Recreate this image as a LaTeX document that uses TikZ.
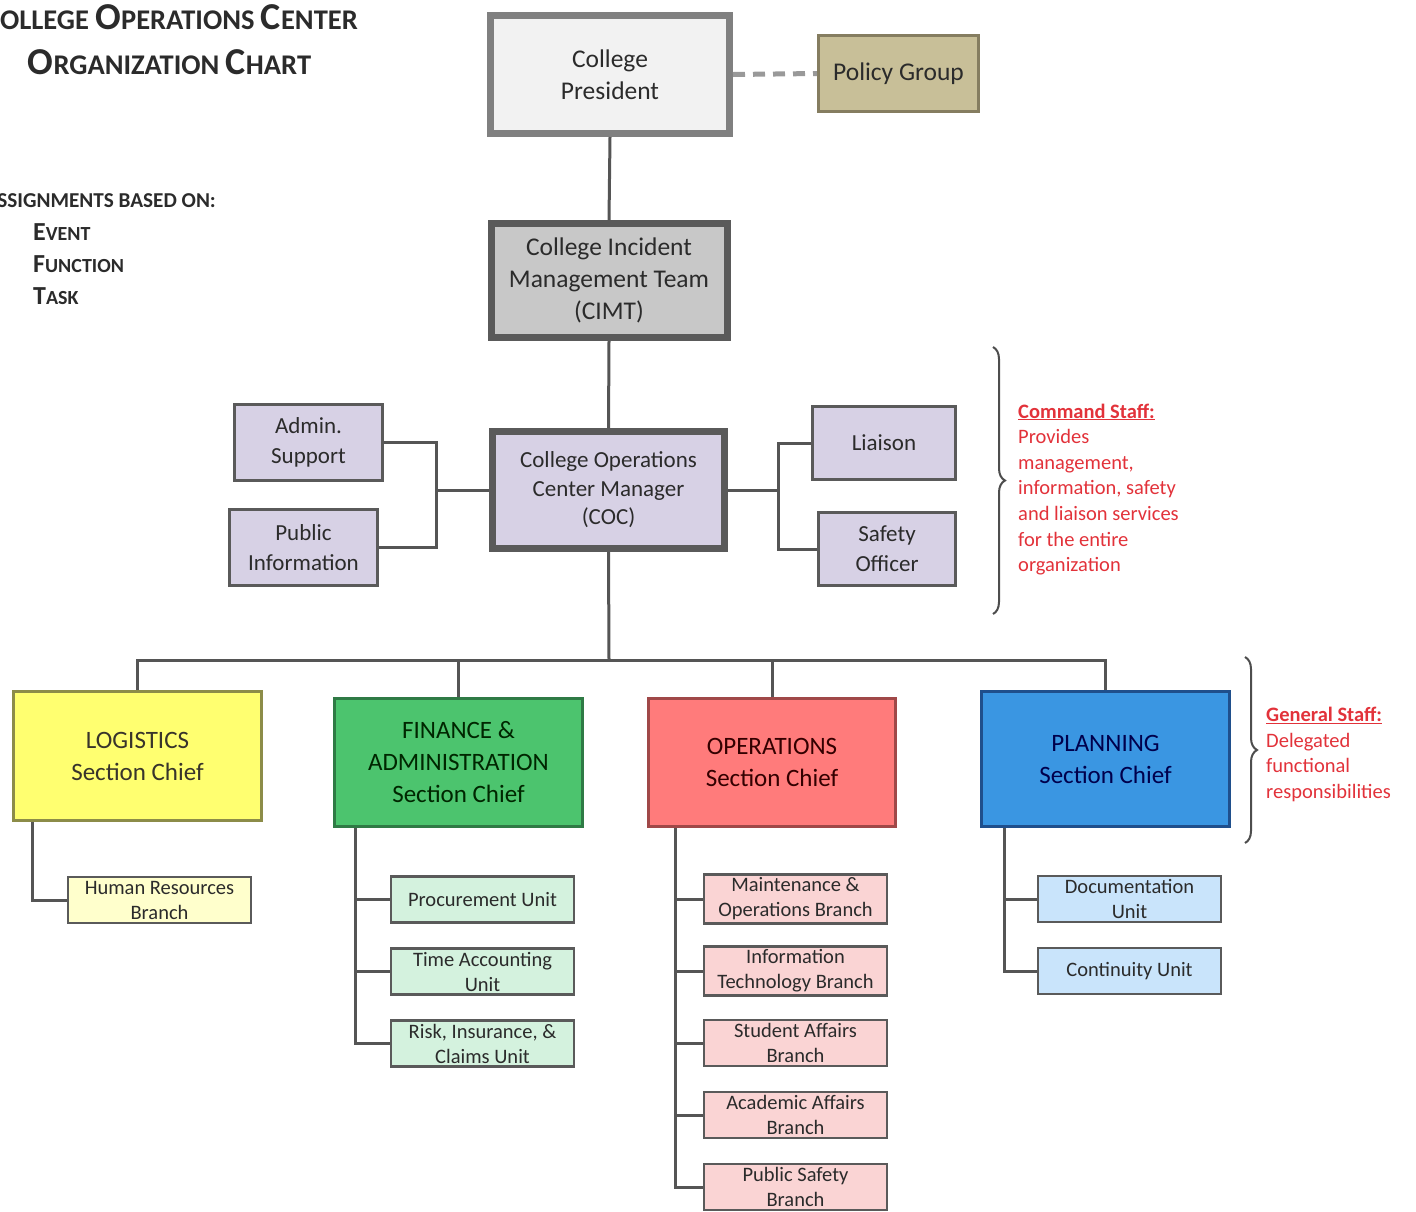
\documentclass[tikz,border=0pt]{standalone}
\usepackage{fontspec}
\setmainfont{Carlito}
\usetikzlibrary{decorations.pathreplacing}

\definecolor{ink}{HTML}{2B2B2B}
\definecolor{linegray}{HTML}{555555}
\definecolor{edgegray}{HTML}{5A5A5A}
\definecolor{bracegray}{HTML}{4D4D4D}
\definecolor{notered}{HTML}{E2323A}
\definecolor{presfill}{HTML}{F2F2F2}
\definecolor{cimtfill}{HTML}{C8C8C8}
\definecolor{lavender}{HTML}{D7D1E5}
\definecolor{policyfill}{HTML}{C8BF98}
\definecolor{policyedge}{HTML}{857D60}
\definecolor{logfill}{HTML}{FFFF70}
\definecolor{logedge}{HTML}{8C8C48}
\definecolor{finfill}{HTML}{4CC46E}
\definecolor{finedge}{HTML}{2F7A45}
\definecolor{opsfill}{HTML}{FF7B7B}
\definecolor{opsedge}{HTML}{A04848}
\definecolor{planfill}{HTML}{3A96E2}
\definecolor{planedge}{HTML}{1F4F8C}
\definecolor{logunit}{HTML}{FFFFCC}
\definecolor{finunit}{HTML}{D4F2DE}
\definecolor{opsunit}{HTML}{FAD4D4}
\definecolor{planunit}{HTML}{C9E4FB}

\newcommand{\titlecap}[1]{{\fontsize{38}{38}\selectfont #1}}
\newcommand{\listcap}[1]{{\fontsize{26}{26}\selectfont #1}}

\begin{document}
\begin{tikzpicture}[x=1pt, y=-1pt,
  link/.style={draw=linegray, line width=3pt},
  topbox/.style={draw=edgegray, line width=7pt, align=center, text=ink, font=\fontsize{25.5}{32}\selectfont},
  staffbox/.style={draw=edgegray, fill=lavender, line width=3pt, align=center, text=ink, font=\fontsize{23}{30}\selectfont, minimum height=76pt},
  sectionbox/.style={line width=3pt, align=center, font=\fontsize{25}{32}\selectfont, minimum width=248pt},
  unitbox/.style={draw=edgegray, line width=2.5pt, align=center, text=ink, font=\fontsize{20.5}{25}\selectfont, minimum width=183pt, minimum height=46pt},
  note/.style={text=notered, align=left, anchor=north west, inner sep=0pt, font=\fontsize{20.5}{25.6}\selectfont},
  staffbrace/.style={draw=bracegray, line width=2pt, decorate, decoration={brace, amplitude=12pt}}]
  \useasboundingbox (0,0) rectangle (1416,1211);
  \clip (0,0) rectangle (1416,1211);

  \node [anchor=base east, font=\bfseries\fontsize{28.5}{28.5}\selectfont, text=ink, inner sep=0pt] (title1) at (358,29)
    {\titlecap{C}OLLEGE \titlecap{O}PERATIONS \titlecap{C}ENTER};
  \node [anchor=base, font=\bfseries\fontsize{28.5}{28.5}\selectfont, text=ink, inner sep=0pt] (title2) at (169.5,74)
    {\titlecap{O}RGANIZATION \titlecap{C}HART};
  \node [anchor=base east, font=\bfseries\fontsize{21.2}{21.2}\selectfont, text=ink, inner sep=0pt] (basis) at (216,207)
    {ASSIGNMENTS BASED ON:};
  \node [anchor=base west, font=\bfseries\fontsize{20}{20}\selectfont, text=ink, inner sep=0pt] (event) at (33,240) {\listcap{E}VENT};
  \node [anchor=base west, font=\bfseries\fontsize{20}{20}\selectfont, text=ink, inner sep=0pt] (function) at (33,272) {\listcap{F}UNCTION};
  \node [anchor=base west, font=\bfseries\fontsize{20}{20}\selectfont, text=ink, inner sep=0pt] (task) at (33,304) {\listcap{T}ASK};

  \node [topbox, draw=gray, fill=presfill, minimum width=239pt, minimum height=118pt] (president) at (610,74.5) {College\\President};
  \node [draw=policyedge, fill=policyfill, line width=3pt, text=ink, font=\fontsize{25.5}{32}\selectfont, minimum width=160pt, minimum height=76pt] (policy) at (898.5,73.5) {Policy Group};
  \node [topbox, fill=cimtfill, minimum width=236pt, minimum height=114pt] (cimt) at (609,280.5) {College Incident\\Management Team\\(CIMT)};
  \node [topbox, fill=lavender, font=\fontsize{23}{28.5}\selectfont, minimum width=232pt, minimum height=117pt] (coc) at (608.5,490) {College Operations\\Center Manager\\(COC)};

  \node [staffbox, minimum width=148pt] (admin) at (308.5,442.5) {Admin.\\Support};
  \node [staffbox, minimum width=148pt] (pubinfo) at (303.5,547.5) {Public\\Information};
  \node [staffbox, minimum width=143pt, minimum height=73pt] (liaison) at (884,443) {Liaison};
  \node [staffbox, minimum width=137pt, minimum height=73pt] (safety) at (887,549) {Safety\\Officer};

  \node [sectionbox, draw=logedge, fill=logfill, text=black!80!olive, minimum height=129pt] (logistics) at (137.5,756) {LOGISTICS\\Section Chief};
  \node [sectionbox, draw=finedge, fill=finfill, text=black!85!green, minimum height=128pt] (finance) at (458.5,762.5) {FINANCE \&\\ADMINISTRATION\\Section Chief};
  \node [sectionbox, draw=opsedge, fill=opsfill, text=black!80!red, minimum width=247pt, minimum height=128pt] (operations) at (772,762.5) {OPERATIONS\\Section Chief};
  \node [sectionbox, draw=planedge, fill=planfill, text=black!70!blue, minimum height=135pt] (planning) at (1105.5,759) {PLANNING\\Section Chief};

  \node [unitbox, fill=logunit] (hr) at (159.5,900) {Human Resources\\Branch};
  \node [unitbox, fill=finunit] (procure) at (482.5,899.5) {Procurement Unit};
  \node [unitbox, fill=finunit] (timeacc) at (482.5,971.5) {Time Accounting\\Unit};
  \node [unitbox, fill=finunit] (risk) at (482.5,1043.5) {Risk, Insurance, \&\\Claims Unit};
  \node [unitbox, fill=opsunit] (maint) at (795.5,899) {Maintenance \&\\Operations Branch};
  \node [unitbox, fill=opsunit] (infotech) at (795.5,971) {Information\\Technology Branch};
  \node [unitbox, fill=opsunit] (student) at (795.5,1043) {Student Affairs\\Branch};
  \node [unitbox, fill=opsunit] (academic) at (795.5,1115) {Academic Affairs\\Branch};
  \node [unitbox, fill=opsunit] (pubsafety) at (795.5,1187) {Public Safety\\Branch};
  \node [unitbox, fill=planunit] (docu) at (1129.5,899) {Documentation\\Unit};
  \node [unitbox, fill=planunit] (contin) at (1129.5,971) {Continuity Unit};

  \coordinate (leftjoin) at (436,490);
  \coordinate (rightjoin) at (778,490);
  \coordinate (bus) at (609,660);

  \draw [draw=gray!80, line width=5pt, dash pattern=on 12pt off 8pt] (president.east) -- (policy.west);
  \draw [link] (president.south) -- (cimt.north);
  \draw [link] (cimt.south) -- (coc.north);
  \draw [link] (admin.east) -| (leftjoin) |- (pubinfo.east);
  \draw [link] (coc.west) -- (leftjoin);
  \draw [link] (liaison.west) -| (rightjoin) |- (safety.west);
  \draw [link] (coc.east) -- (rightjoin);
  \draw [link] (coc.south) -- (bus);
  \draw [link] (logistics.north) |- (bus) -| (planning.north);
  \draw [link] (finance.north) -- (finance.north |- bus);
  \draw [link] (operations.north) -- (operations.north |- bus);

  \draw [link] ([xshift=20pt]logistics.south west) |- (hr.west);
  \foreach \u in {procure, timeacc, risk}
    \draw [link] ([xshift=22pt]finance.south west) |- (\u.west);
  \foreach \u in {maint, infotech, student, academic, pubsafety}
    \draw [link] ([xshift=28pt]operations.south west) |- (\u.west);
  \foreach \u in {docu, contin}
    \draw [link] ([xshift=24pt]planning.south west) |- (\u.west);

  \draw [staffbrace] (993,347) -- (993,614);
  \draw [staffbrace] (1245,657) -- (1245,843);

  \node [note] (cmdnote) at (1018,403.5)
    {\textbf{\underline{Command Staff:}}\\Provides\\management,\\information, safety\\and liaison services\\for the entire\\organization};
  \node [note] (gennote) at (1266,707)
    {\textbf{\underline{General Staff:}}\\Delegated\\functional\\responsibilities};
\end{tikzpicture}
\end{document}
